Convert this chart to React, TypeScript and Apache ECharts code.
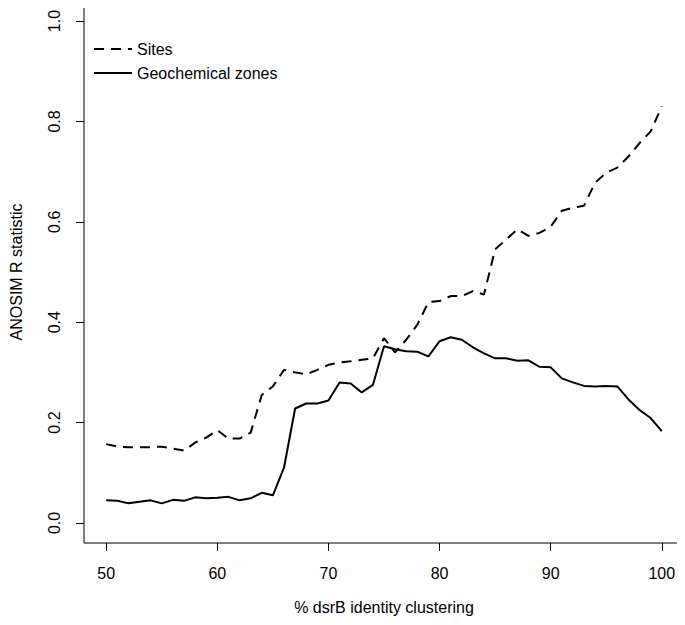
import React, { useEffect, useRef } from "react";
import * as echarts from "echarts";

const identity = [50,51,52,53,54,55,56,57,58,59,60,61,62,63,64,65,66,67,68,69,70,71,72,73,74,75,76,77,78,79,80,81,82,83,84,85,86,87,88,89,90,91,92,93,94,95,96,97,98,99,100];

const sites = [0.157,0.152,0.151,0.151,0.151,0.152,0.148,0.144,0.160,0.170,0.185,0.168,0.168,0.180,0.255,0.272,0.305,0.300,0.296,0.305,0.315,0.320,0.322,0.325,0.328,0.368,0.340,0.365,0.395,0.440,0.442,0.452,0.452,0.462,0.455,0.545,0.565,0.585,0.572,0.578,0.590,0.622,0.628,0.632,0.678,0.698,0.708,0.730,0.757,0.780,0.830];

const zones = [0.045,0.044,0.039,0.042,0.045,0.039,0.046,0.044,0.051,0.049,0.050,0.052,0.045,0.049,0.060,0.055,0.110,0.228,0.238,0.238,0.244,0.280,0.278,0.260,0.275,0.352,0.346,0.342,0.341,0.332,0.362,0.370,0.365,0.350,0.338,0.328,0.328,0.323,0.324,0.311,0.310,0.288,0.280,0.273,0.272,0.273,0.272,0.246,0.225,0.209,0.183];

const xTicks = [50, 60, 70, 80, 90, 100];
const yTicks = [0, 0.2, 0.4, 0.6, 0.8, 1.0];

const FONT = "'Liberation Sans', Arial, Helvetica, sans-serif";

export default function App() {
  const ref = useRef<HTMLDivElement>(null);
  useEffect(() => {
    if (!ref.current) return;
    const chart = echarts.init(ref.current, null, { renderer: "svg" });
    chart.setOption({
      animation: false,
      backgroundColor: "#fff",
      textStyle: { fontFamily: FONT },
      grid: {
        left: 80,
        right: 1,
        top: 1,
        bottom: 82,
        show: true,
        borderColor: "#000",
        borderWidth: 1,
        backgroundColor: "transparent",
      },
      legend: {
        orient: "vertical",
        left: 88,
        top: 36,
        itemWidth: 38,
        itemHeight: 14,
        itemGap: 8,
        itemStyle: { opacity: 0 },
        textStyle: { fontSize: 16, color: "#000", fontFamily: FONT },
        data: ["Sites", "Geochemical zones"],
      },
      xAxis: {
        type: "value",
        min: 48,
        max: 102,
        name: "% dsrB identity clustering",
        nameLocation: "middle",
        nameGap: 56,
        nameTextStyle: { fontSize: 16, color: "#000", fontFamily: FONT },
        axisLine: { show: false, onZero: false },
        splitLine: { show: false },
        axisTick: {
          show: true,
          length: 8,
          lineStyle: { color: "#000", width: 1 },
          customValues: xTicks,
        },
        axisLabel: {
          fontSize: 16,
          color: "#000",
          margin: 22,
          fontFamily: FONT,
          customValues: xTicks,
          formatter: (v: number) => String(v),
        },
      },
      yAxis: {
        type: "value",
        min: -0.04,
        max: 1.04,
        name: "ANOSIM R statistic",
        nameLocation: "middle",
        nameGap: 60,
        nameTextStyle: { fontSize: 16, color: "#000", fontFamily: FONT },
        axisLine: { show: false, onZero: false },
        splitLine: { show: false },
        axisTick: {
          show: true,
          length: 8,
          lineStyle: { color: "#000", width: 1 },
          customValues: yTicks,
        },
        axisLabel: {
          fontSize: 16,
          color: "#000",
          margin: 22,
          rotate: 90,
          fontFamily: FONT,
          customValues: yTicks,
          formatter: (v: number) => v.toFixed(1),
        },
      },
      series: [
        {
          name: "Sites",
          type: "line",
          data: identity.map((x, i) => [x, sites[i]]),
          symbol: "none",
          lineStyle: { color: "#000", width: 2, type: [10, 7] },
          itemStyle: { color: "#000" },
        },
        {
          name: "Geochemical zones",
          type: "line",
          data: identity.map((x, i) => [x, zones[i]]),
          symbol: "none",
          lineStyle: { color: "#000", width: 2, type: "solid" },
          itemStyle: { color: "#000" },
        },
      ],
    });
    return () => chart.dispose();
  }, []);
  return <div ref={ref} style={{ width: 685, height: 625, margin: -8 }} />;
}
